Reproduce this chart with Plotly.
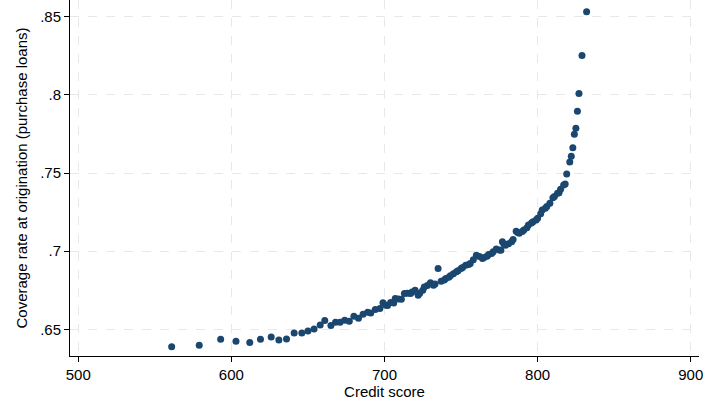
import plotly.graph_objects as go

# Binned scatter: credit score vs. coverage rate at origination (purchase loans)
credit_score = [
    561, 579, 593, 603, 612, 619, 626, 631, 636, 641, 646, 650, 654, 658, 661,
    665, 668, 671, 674, 677, 680, 683, 686, 689, 691, 694, 697, 699, 701, 702,
    704, 706, 707, 709, 711, 713, 715, 717, 718, 720, 722, 723, 725, 726, 728,
    730, 732, 733, 735, 737, 739, 740, 742, 743, 745, 747, 748, 750, 751, 753,
    755, 756, 758, 760, 762, 764, 765, 767, 768, 770, 771, 773, 775, 776, 777,
    778, 779, 781, 783, 784, 786, 787, 788, 790, 791, 793, 794, 796, 797, 799,
    800, 802, 803, 805, 806, 808, 810, 811, 813, 814, 815, 817, 818, 819, 821,
    822, 823, 824, 825, 826, 827, 829, 832,
]
coverage_rate = [
    .6388, .6397, .6436, .6423, .6415, .6436, .6451, .6432, .6438, .6476, .6476,
    .6489, .6502, .6528, .6556, .6524, .6545, .6545, .6558, .6551, .6583, .6571,
    .6596, .6609, .6604, .6626, .6633, .6669, .6654, .6652, .6671, .6668, .6697,
    .6694, .6692, .6729, .6731, .6729, .6738, .6750, .6718, .6730, .6750, .6771,
    .6780, .6797, .6782, .6790, .6889, .6808, .6815, .6825, .6833, .6842, .6855,
    .6868, .6875, .6889, .6895, .6910, .6915, .6921, .6945, .6974, .6965, .6953,
    .6960, .6968, .6978, .6985, .6996, .7013, .7008, .7006, .7060, .7045, .7038,
    .7048, .7060, .7075, .7128, .7120, .7114, .7125, .7135, .7150, .7167, .7180,
    .7188, .7200, .7210, .7240, .7263, .7275, .7285, .7306, .7342, .7350, .7370,
    .7374, .7396, .7423, .7429, .7494, .7571, .7607, .7662, .7748, .7787, .7895,
    .8008, .8252, .8532,
]

x_ticks = [500, 600, 700, 800, 900]
y_ticks = [0.65, 0.70, 0.75, 0.80, 0.85]
y_tick_labels = [".65", ".7", ".75", ".8", ".85"]

FONT = "Liberation Sans, Arial, sans-serif"

fig = go.Figure(
    go.Scatter(
        x=credit_score,
        y=coverage_rate,
        mode="markers",
        marker=dict(size=7, color="#1a476f", line=dict(width=0)),
        showlegend=False,
    )
)

axis_common = dict(
    showline=True,
    linecolor="black",
    linewidth=1,
    ticks="outside",
    ticklen=5,
    tickcolor="black",
    showgrid=True,
    gridcolor="#e8e8e8",
    gridwidth=1,
    griddash="dash",
    zeroline=False,
    tickfont=dict(family=FONT, size=15, color="black"),
    title_font=dict(family=FONT, size=15, color="black"),
)

fig.update_xaxes(
    **axis_common,
    range=[494.6, 905.4],
    tickvals=x_ticks,
    ticklabeloverflow="allow",
    title_text="Credit score",
    title_standoff=4,
)
fig.update_yaxes(
    **axis_common,
    range=[0.6329, 0.8607],
    tickvals=y_ticks,
    ticktext=y_tick_labels,
    title_text="Coverage rate at origination (purchase loans)",
    title_standoff=8,
)

fig.update_layout(
    width=704,
    height=404,
    margin=dict(l=70, r=5, t=0, b=48),
    plot_bgcolor="white",
    paper_bgcolor="white",
    font=dict(family=FONT, color="black"),
)

fig.write_html("out.html")
